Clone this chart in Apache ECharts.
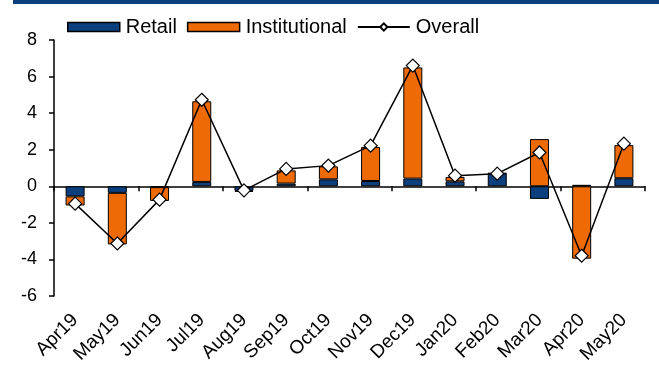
<!DOCTYPE html>
<html>
<head>
<meta charset="utf-8">
<script src="https://cdn.jsdelivr.net/npm/echarts@6/dist/echarts.min.js"></script>
<style>
  html, body { margin: 0; padding: 0; background: #fff; }
  #chart { width: 659px; height: 367px; }
</style>
</head>
<body>
<div id="chart"></div>
<script>
// Monthly flows split by investor type, with the overall total as a line
const months = ['Apr19', 'May19', 'Jun19', 'Jul19', 'Aug19', 'Sep19', 'Oct19', 'Nov19',
                'Dec19', 'Jan20', 'Feb20', 'Mar20', 'Apr20', 'May20'];
const retail = [-0.55, -0.36, -0.05, 0.24, -0.25, 0.15, 0.38, 0.29, 0.42, 0.27, 0.70, -0.69, 0.08, 0.44];
const institutional = [-0.50, -2.82, -0.75, 4.41, -0.05, 0.72, 0.71, 1.86, 6.08, 0.24, 0.02, 2.58, -3.96, 1.81];
const overall = [-0.95, -3.13, -0.73, 4.73, -0.22, 0.95, 1.13, 2.22, 6.60, 0.58, 0.69, 1.85, -3.80, 2.33];
const yTicks = { min: -6, max: 8, step: 2 };

const FONT = '"Liberation Sans", Arial, sans-serif';
const BLUE = '#0b3f7e';
const ORANGE = '#ee6a05';

const chart = echarts.init(document.getElementById('chart'), null, { renderer: 'canvas' });

chart.setOption({
  animation: false,
  backgroundColor: '#ffffff',
  textStyle: { fontFamily: FONT, color: '#000' },
  graphic: [{
    type: 'rect',
    shape: { x: 13, y: 0, width: 646, height: 4 },
    style: { fill: BLUE },
    silent: true
  }],
  legend: {
    left: 62,
    top: 12,
    itemWidth: 52,
    itemHeight: 9,
    itemGap: 10,
    textStyle: { fontFamily: FONT, fontSize: 20, color: '#000', padding: [0, 0, 0, 1] },
    data: [
      { name: 'Retail', icon: 'rect', itemStyle: { color: BLUE, borderColor: '#000', borderWidth: 1.5 } },
      { name: 'Institutional', icon: 'rect', itemStyle: { color: ORANGE, borderColor: '#000', borderWidth: 1.5 } },
      { name: 'Overall' }
    ]
  },
  grid: { left: 54, right: 14, top: 40, bottom: 71, containLabel: false },
  xAxis: [
    {
      type: 'category',
      data: months,
      boundaryGap: true,
      axisLine: { onZero: true, lineStyle: { color: '#000', width: 1.5 } },
      axisTick: { show: true, inside: false, length: 5, lineStyle: { color: '#000', width: 1.5 } },
      axisLabel: { show: false },
      splitLine: { show: false }
    },
    {
      type: 'category',
      data: months,
      position: 'bottom',
      boundaryGap: true,
      axisLine: { show: false, onZero: false },
      axisTick: { show: false },
      axisLabel: {
        show: true,
        rotate: 45,
        interval: 0,
        margin: 21,
        fontFamily: FONT,
        fontSize: 19,
        color: '#000'
      },
      splitLine: { show: false }
    }
  ],
  yAxis: {
    type: 'value',
    min: yTicks.min,
    max: yTicks.max,
    interval: yTicks.step,
    axisLine: { show: true, lineStyle: { color: '#000', width: 1.5 } },
    axisTick: { show: true, length: 5, lineStyle: { color: '#000', width: 1.5 } },
    axisLabel: { fontFamily: FONT, fontSize: 18, color: '#000', margin: 17 },
    splitLine: { show: false }
  },
  series: [
    {
      name: 'Retail',
      type: 'bar',
      stack: 'flows',
      xAxisIndex: 0,
      barWidth: 19,
      data: retail,
      itemStyle: { color: BLUE, borderColor: '#000', borderWidth: 1 }
    },
    {
      name: 'Institutional',
      type: 'bar',
      stack: 'flows',
      xAxisIndex: 0,
      barWidth: 19,
      data: institutional,
      itemStyle: { color: ORANGE, borderColor: '#000', borderWidth: 1 }
    },
    {
      name: 'Overall',
      type: 'line',
      xAxisIndex: 0,
      data: overall,
      symbol: 'diamond',
      symbolSize: 13,
      showAllSymbol: true,
      z: 5,
      lineStyle: { color: '#000', width: 1.5 },
      itemStyle: { color: '#fff', borderColor: '#000', borderWidth: 1.2 }
    }
  ]
});
</script>
</body>
</html>
